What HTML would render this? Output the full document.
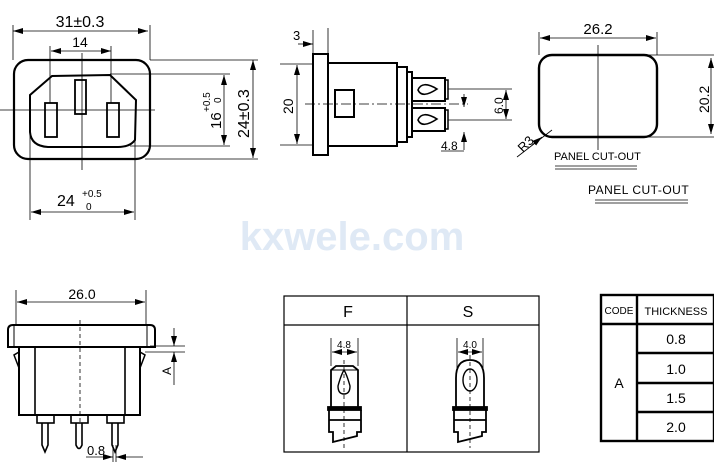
<!DOCTYPE html>
<html><head><meta charset="utf-8"><style>
html,body{margin:0;padding:0;background:#fff;}
svg{display:block;font-family:"Liberation Sans",sans-serif;}
</style></head><body>
<svg width="714" height="475" viewBox="0 0 714 475" xmlns="http://www.w3.org/2000/svg">
<defs>
<marker id="a" viewBox="0 0 10 6" refX="10" refY="3" markerWidth="10" markerHeight="6" orient="auto-start-reverse" markerUnits="userSpaceOnUse"><path d="M0,0L10,3L0,6z" fill="#000"/></marker>
</defs>
<g stroke="#000" fill="none">
<rect x="14" y="60" width="136" height="99" rx="14" stroke-width="2.2"/>
<path d="M30,95 L52,76 L110,75 L136,100 L135,140 Q130,147 118,147 L48,147 Q31,146 30,132 Z" stroke-width="2"/>
<rect x="45" y="103" width="12" height="34" stroke-width="1.8"/>
<rect x="75" y="80" width="11" height="34" stroke-width="1.8"/>
<rect x="107" y="103" width="12" height="34" stroke-width="1.8"/>
<g stroke-width="0.8">
<line x1="0" y1="110" x2="155" y2="110"/>
<line x1="82" y1="53" x2="82" y2="170"/>
<line x1="13" y1="25" x2="13" y2="60"/><line x1="150" y1="25" x2="150" y2="60"/>
<line x1="13" y1="31" x2="148" y2="31" marker-start="url(#a)" marker-end="url(#a)"/>
<line x1="50" y1="46" x2="50" y2="103"/><line x1="111" y1="46" x2="111" y2="103"/>
<line x1="51" y1="51" x2="111" y2="51" marker-start="url(#a)" marker-end="url(#a)"/>
<line x1="150" y1="60" x2="258" y2="60"/><line x1="145" y1="159" x2="258" y2="159"/>
<line x1="110" y1="74" x2="230" y2="74"/><line x1="130" y1="146" x2="230" y2="146"/>
<line x1="224" y1="75" x2="224" y2="145" marker-start="url(#a)" marker-end="url(#a)"/>
<line x1="253" y1="60" x2="253" y2="158" marker-start="url(#a)" marker-end="url(#a)"/>
<line x1="30" y1="132" x2="30" y2="220"/><line x1="135" y1="135" x2="135" y2="220"/>
<line x1="31" y1="212" x2="134" y2="212" marker-start="url(#a)" marker-end="url(#a)"/>
</g>
<rect x="313" y="54" width="15" height="101" stroke-width="2"/>
<rect x="328" y="63" width="69" height="83" stroke-width="2"/>
<rect x="335" y="90" width="19" height="27" stroke-width="2"/>
<path d="M397,67 H407 V142 H397 M407,72 H412 V137 H407" stroke-width="2"/>
<rect x="412" y="78" width="33" height="23" stroke-width="2"/>
<rect x="412" y="108" width="33" height="23" stroke-width="2"/>
<path d="M445,80 H448 V99 H445 M445,110 H448 V129 H445" stroke-width="1.5"/>
<path d="M418,90 Q422,80 437,89 Q422,99 418,90Z M418,120 Q422,110 437,119 Q422,129 418,120Z" stroke-width="1.6"/>
<g stroke-width="0.8">
<line x1="305" y1="104" x2="468" y2="104" stroke-dasharray="10,3,2,3"/>
<line x1="313" y1="30" x2="313" y2="54"/><line x1="328" y1="28" x2="328" y2="54"/>
<line x1="298" y1="44" x2="313" y2="44" marker-end="url(#a)"/>
<line x1="280" y1="64" x2="313" y2="64"/><line x1="280" y1="145" x2="313" y2="145"/>
<line x1="297" y1="65" x2="297" y2="144" marker-start="url(#a)" marker-end="url(#a)"/>
<line x1="448" y1="89" x2="512" y2="89"/><line x1="448" y1="120" x2="512" y2="120"/>
<line x1="506" y1="90" x2="506" y2="119" marker-start="url(#a)" marker-end="url(#a)"/>
<line x1="464" y1="94" x2="464" y2="107" marker-end="url(#a)"/>
<line x1="464" y1="150" x2="464" y2="132" marker-end="url(#a)"/>
<line x1="441" y1="151" x2="464" y2="151"/>
</g>
<rect x="539" y="55" width="118" height="82" rx="13" stroke-width="2.4"/>
<g stroke-width="0.8">
<line x1="598" y1="45" x2="598" y2="150"/>
<line x1="539" y1="32" x2="539" y2="55"/><line x1="657" y1="32" x2="657" y2="55"/>
<line x1="540" y1="38" x2="656" y2="38" marker-start="url(#a)" marker-end="url(#a)"/>
<line x1="645" y1="55" x2="714" y2="55"/><line x1="645" y1="137" x2="714" y2="137"/>
<line x1="711" y1="58" x2="711" y2="134" marker-start="url(#a)" marker-end="url(#a)"/>
<line x1="517" y1="157" x2="552" y2="130"/>
<line x1="532" y1="145" x2="542" y2="137" marker-end="url(#a)"/>
<line x1="555" y1="166" x2="637" y2="166"/><line x1="555" y1="169" x2="637" y2="169"/>
<line x1="595" y1="200" x2="688" y2="200"/><line x1="595" y1="203" x2="688" y2="203"/>
</g>
<path d="M8,347 V330 Q8,325 13,325 H150 Q155,325 155,330 V347 Z" stroke-width="2"/>
<line x1="14" y1="326" x2="14" y2="346" stroke-width="1"/><line x1="147" y1="326" x2="147" y2="346" stroke-width="1"/>
<rect x="19" y="347" width="121" height="68" stroke-width="2"/>
<line x1="35" y1="347" x2="35" y2="415" stroke-width="1.6"/><line x1="125" y1="347" x2="125" y2="415" stroke-width="1.6"/>
<path d="M19,352 L14,355 L19,368 M140,352 L145,355 L140,368" stroke-width="1.5"/>
<g stroke-width="1.6">
<rect x="37" y="415" width="17" height="8"/><path d="M42,423 V445 L45,452 L48,445 V423"/>
<rect x="71" y="415" width="17" height="8"/><path d="M76,423 V445 Q79,452 82,445 V423"/>
<rect x="107" y="415" width="17" height="8"/><path d="M112,423 V445 L115,452 L118,445 V423"/>
</g>
<g stroke-width="0.8">
<line x1="80" y1="320" x2="80" y2="425" stroke-dasharray="4,3"/>
<line x1="16" y1="290" x2="16" y2="325"/><line x1="146" y1="290" x2="146" y2="325"/>
<line x1="17" y1="302" x2="145" y2="302" marker-start="url(#a)" marker-end="url(#a)"/>
<line x1="150" y1="346" x2="185" y2="346"/><line x1="145" y1="352" x2="185" y2="352"/>
<line x1="174" y1="328" x2="174" y2="346" marker-end="url(#a)"/>
<line x1="174" y1="385" x2="174" y2="352" marker-end="url(#a)"/>
<line x1="113" y1="445" x2="113" y2="462"/><line x1="116" y1="445" x2="116" y2="462"/>
<line x1="86" y1="457" x2="113" y2="457" marker-end="url(#a)"/>
<line x1="143" y1="457" x2="116" y2="457" marker-end="url(#a)"/>
</g>
<rect x="284" y="296" width="255" height="156" stroke-width="1.2"/>
<line x1="284" y1="325" x2="539" y2="325" stroke-width="1.2"/>
<line x1="407" y1="296" x2="407" y2="452" stroke-width="1.2"/>
<g stroke-width="1.8">
<path d="M331,408 V370 L336,366 H353 L358,370 V408"/>
<line x1="331" y1="370" x2="358" y2="370" stroke-width="1"/>
<path d="M338,386 Q341,375 344,370 Q347,375 350,386 Q350,394 344,394 Q338,394 338,386Z" stroke-width="1.4"/>
<rect x="328" y="407" width="33" height="3" fill="#000"/>
<path d="M329,410 V420 H361 V410 M329,420 V432 H333 V442 L357,436 V432 H361 V420"/>
<path d="M456,408 V378 Q456,360 470,360 Q484,360 484,378 V408"/>
<ellipse cx="470" cy="380" rx="7" ry="11" stroke-width="1.4"/>
<rect x="453" y="407" width="34" height="3" fill="#000"/>
<path d="M454,410 V420 H486 V410 M454,420 V432 H458 V442 L482,436 V432 H486 V420"/>
</g>
<g stroke-width="0.8">
<line x1="344" y1="360" x2="344" y2="448" stroke-dasharray="4,3"/>
<line x1="470" y1="355" x2="470" y2="448" stroke-dasharray="4,3"/>
<line x1="331" y1="338" x2="331" y2="366"/><line x1="358" y1="338" x2="358" y2="366"/>
<line x1="332" y1="352" x2="357" y2="352" marker-start="url(#a)" marker-end="url(#a)"/>
<line x1="457" y1="338" x2="457" y2="368"/><line x1="483" y1="338" x2="483" y2="368"/>
<line x1="458" y1="352" x2="482" y2="352" marker-start="url(#a)" marker-end="url(#a)"/>
</g>
<g stroke-width="2.4">
<rect x="601" y="295" width="113" height="146"/>
<line x1="601" y1="324" x2="714" y2="324"/>
<line x1="637" y1="295" x2="637" y2="441"/>
<line x1="637" y1="353" x2="714" y2="353"/>
<line x1="637" y1="383" x2="714" y2="383"/>
<line x1="637" y1="412" x2="714" y2="412"/>
</g>
</g>
<g fill="#000" font-size="14">
<text x="80" y="27" text-anchor="middle" font-size="16">31±0.3</text>
<text x="80" y="47" text-anchor="middle" font-size="14">14</text>
<text transform="translate(221,129) rotate(-90)" font-size="15">16</text>
<text transform="translate(210,112) rotate(-90)" font-size="10">+0.5</text>
<text transform="translate(221,103) rotate(-90)" font-size="10">0</text>
<text transform="translate(249,138) rotate(-90)" font-size="16">24±0.3</text>
<text x="57" y="206" font-size="16">24</text>
<text x="82" y="197" font-size="10">+0.5</text>
<text x="86" y="210" font-size="10">0</text>
<text x="293" y="40" font-size="13">3</text>
<text transform="translate(293,114) rotate(-90)" font-size="14">20</text>
<text transform="translate(503,114) rotate(-90)" font-size="12">6.0</text>
<text x="441" y="150" font-size="12">4.8</text>
<text x="598" y="34" text-anchor="middle" font-size="15">26.2</text>
<text transform="translate(709,113) rotate(-90)" font-size="14">20.2</text>
<text transform="translate(523,153) rotate(-45)" font-size="13">R3</text>
<text x="554" y="160" font-size="11">PANEL CUT-OUT</text>
<text x="588" y="194" font-size="12" letter-spacing="0.5">PANEL CUT-OUT</text>
<text x="82" y="299" text-anchor="middle" font-size="14">26.0</text>
<text transform="translate(171,375) rotate(-90)" font-size="12">A</text>
<text x="87" y="455" font-size="13">0.8</text>
<text x="348" y="317" text-anchor="middle" font-size="16">F</text>
<text x="468" y="317" text-anchor="middle" font-size="16">S</text>
<text x="344" y="348" text-anchor="middle" font-size="10">4.8</text>
<text x="470" y="348" text-anchor="middle" font-size="10">4.0</text>
<text x="619" y="314" text-anchor="middle" font-size="10">CODE</text>
<text x="676" y="315" text-anchor="middle" font-size="11">THICKNESS</text>
<text x="676" y="344" text-anchor="middle">0.8</text>
<text x="676" y="374" text-anchor="middle">1.0</text>
<text x="676" y="403" text-anchor="middle">1.5</text>
<text x="676" y="432" text-anchor="middle">2.0</text>
<text x="619" y="388" text-anchor="middle">A</text>
</g>
<text x="352" y="250" text-anchor="middle" font-size="40" font-weight="bold" fill="#dfe9f5">kxwele.com</text>
</svg>
</body></html>
